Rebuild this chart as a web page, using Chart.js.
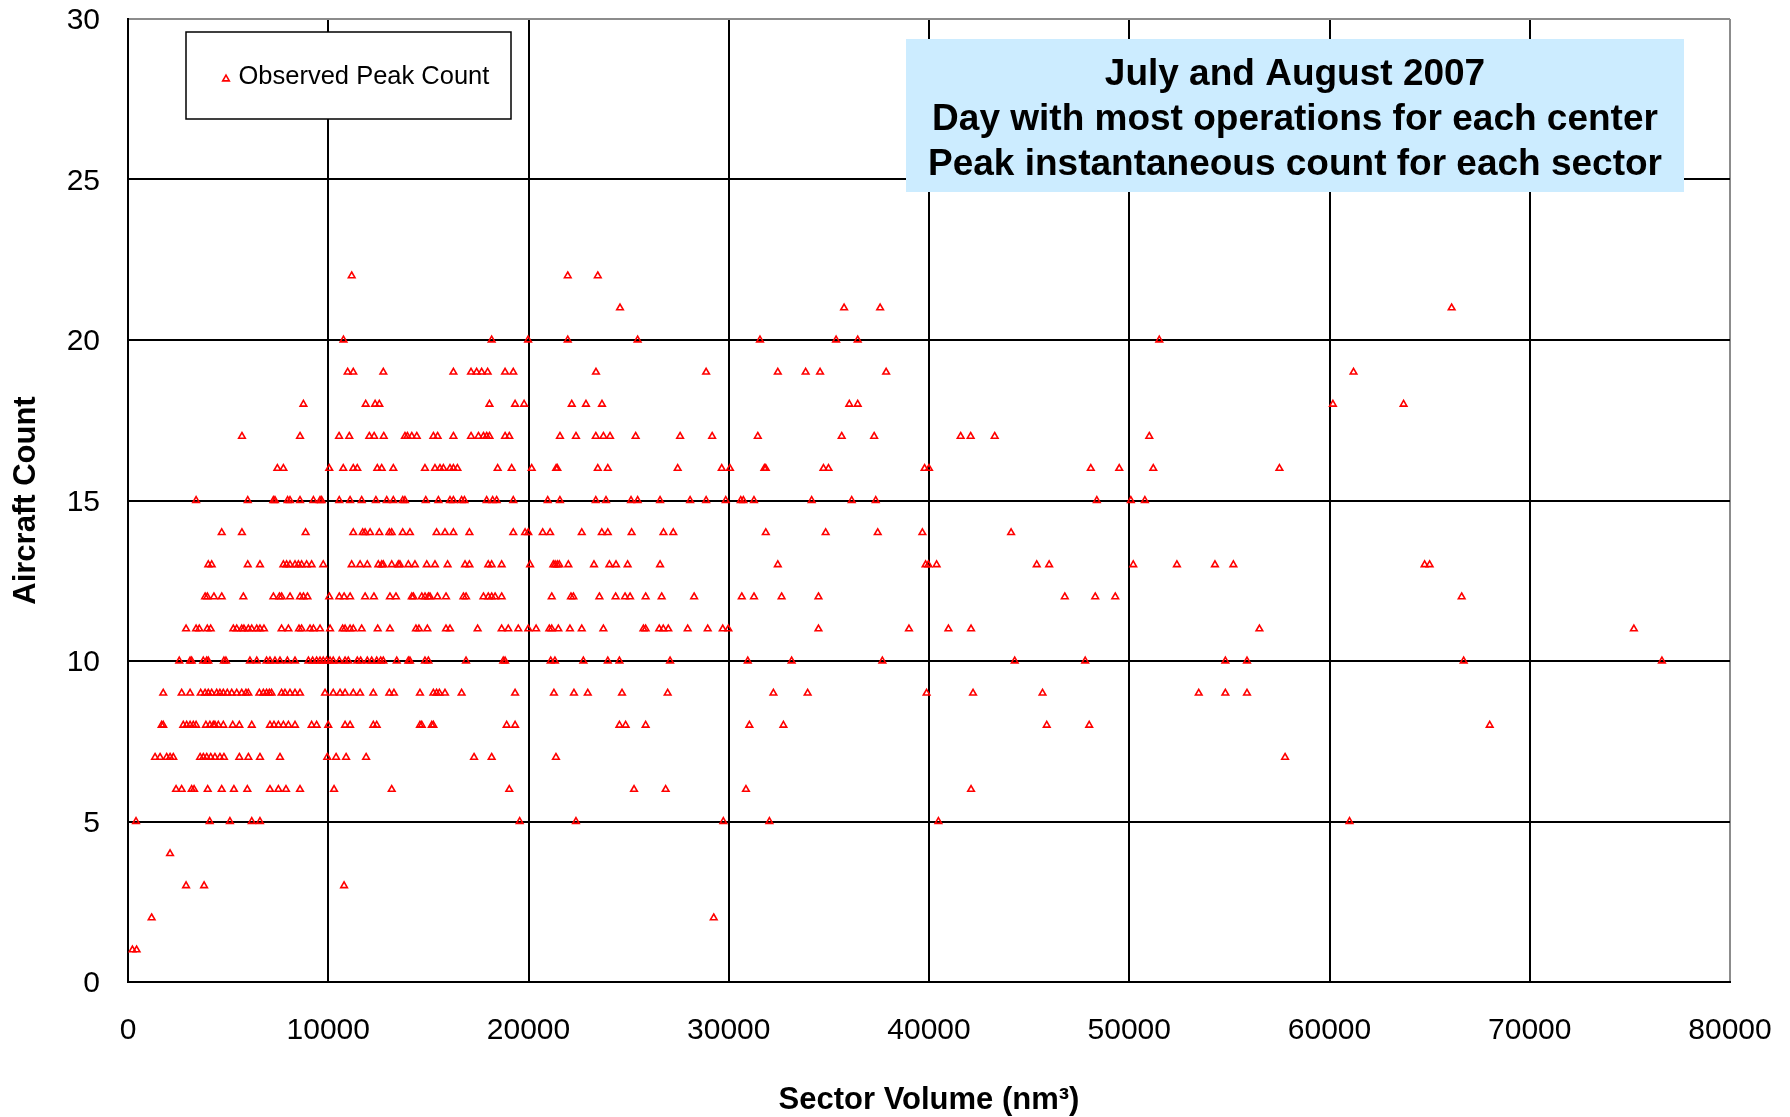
<!DOCTYPE html>
<html>
<head>
<meta charset="utf-8">
<script src="https://cdn.jsdelivr.net/npm/chart.js@4/dist/chart.umd.min.js"></script>
<style>
  html, body { margin: 0; padding: 0; background: #ffffff; }
  canvas { display: block; }
</style>
</head>
<body>
<canvas id="chart" width="1790" height="1117"></canvas>
<script>
// Sector volumes (nm³), grouped by the observed peak instantaneous aircraft count
const volumes22 = [11170, 21960, 23460];
const volumes21 = [24570, 35760, 37560, 66100];
const volumes20 = [10760, 18160, 19980, 21960, 25450, 31560, 35360, 36440, 51500];
const volumes19 = [10970, 11250, 12750, 16250, 17130, 17410, 17660, 17960, 18830, 19240, 23370, 28870,
  32450, 33840, 34560, 37860, 61200];
const volumes18 = [8760, 11870, 12340, 12550, 18050, 19330, 19780, 22160, 22870, 23670, 36020, 36440,
  60170, 63700];
const volumes17 = [5690, 8590, 10540, 11050, 12050, 12290, 12770, 13830, 13950, 14170, 14420, 15250,
  15460, 16250, 17130, 17500, 17750, 17910, 18050, 18830, 19040, 21570, 22370, 23360, 23740, 24070,
  25350, 27570, 29170, 31450, 35640, 37260, 41580, 42080, 43280, 51000];
const volumes16 = [7460, 7760, 10050, 10750, 11250, 11450, 12450, 12670, 13250, 14830, 15330, 15580,
  15750, 16080, 16250, 16450, 18460, 19160, 20160, 21380, 21440, 23460, 23960, 27450, 29650, 30060,
  31780, 31850, 34730, 34980, 39780, 40000, 48080, 49500, 51200, 57500];
const volumes15 = [3400, 5980, 7260, 7340, 7970, 8090, 8590, 9260, 9590, 9670, 10550, 11090, 11670,
  12380, 12920, 13250, 13720, 13830, 14870, 15500, 16080, 16250, 16660, 16800, 17910, 18210, 18410,
  19240, 20960, 21570, 23360, 23870, 25120, 25450, 26570, 28070, 28870, 29850, 30600, 30730, 31260,
  34140, 36140, 37340, 48380, 50080, 50780];
const volumes14 = [4680, 5690, 8870, 11250, 11720, 11840, 12090, 12550, 13050, 13170, 13720, 14080,
  15410, 15830, 16250, 17050, 19240, 19830, 19990, 20710, 21080, 22660, 23660, 23960, 25150, 26740,
  27230, 31850, 34840, 37440, 39670, 44100];
const volumes13 = [4010, 4180, 5980, 6590, 7760, 7920, 8090, 8340, 8510, 8670, 8920, 9170, 9750,
  11170, 11590, 11950, 12500, 12670, 12750, 13170, 13500, 13580, 14000, 14330, 14920, 15330, 15960,
  16830, 17050, 17990, 18160, 18660, 20080, 21240, 21330, 21440, 21540, 21990, 23270, 24040, 24370,
  24950, 26570, 32450, 39830, 39970, 40380, 45380, 46000, 50200, 52380, 54280, 55200, 64750, 65000];
const volumes12 = [3850, 3960, 4290, 4680, 5760, 7260, 7560, 7670, 8090, 8590, 8760, 8960, 10050,
  10550, 10790, 11090, 11840, 12280, 13080, 13380, 14170, 14250, 14670, 14830, 15000, 15080, 15450,
  15880, 16750, 16880, 17750, 17990, 18160, 18330, 18660, 21160, 22120, 22240, 23540, 24350, 24820,
  25070, 25850, 26650, 28270, 30650, 31260, 32640, 34480, 46780, 48300, 49300, 66600];
const volumes11 = [2900, 3400, 3560, 3960, 4130, 5260, 5430, 5680, 5790, 6010, 6180, 6430, 6590,
  6790, 7670, 8010, 8540, 8670, 9090, 9260, 9590, 10090, 10720, 10840, 11090, 11250, 11670, 12470,
  13080, 14380, 14530, 14950, 15880, 16080, 17460, 18660, 18990, 19490, 19990, 20380, 21040, 21160,
  21490, 22070, 22660, 23740, 25740, 25850, 26530, 26730, 26980, 27950, 28950, 29700, 29980, 34480,
  39000, 40970, 42100, 56500, 75200];
const volumes10 = [2560, 3100, 3180, 3760, 3930, 4010, 4790, 4890, 6090, 6430, 6920, 7090, 7340,
  7590, 7960, 8340, 9010, 9220, 9420, 9590, 9750, 9920, 10090, 10250, 10550, 10840, 11000, 11450,
  11620, 11950, 12170, 12420, 12620, 12750, 13420, 14000, 14080, 14830, 15000, 16880, 18740, 18830,
  21110, 21320, 22740, 23960, 24540, 27070, 30950, 33140, 37670, 44280, 47800, 54800, 55880, 66700,
  76600];
const volumes9 = [1760, 2680, 3100, 3630, 3850, 4010, 4180, 4430, 4590, 4760, 4960, 5180, 5430,
  5680, 5890, 6010, 6560, 6760, 6920, 7060, 7170, 7670, 7840, 8090, 8340, 8590, 9840, 10250, 10590,
  10840, 11250, 11590, 12250, 13050, 13280, 14580, 15250, 15410, 15550, 15830, 16660, 19330, 21270,
  22270, 22960, 24670, 26950, 32230, 33940, 39880, 42200, 45670, 53470, 54800, 55880];
const volumes8 = [1680, 1760, 2760, 2930, 3100, 3260, 3400, 3890, 4090, 4260, 4340, 4510, 4760,
  5230, 5560, 6180, 7090, 7290, 7510, 7760, 8010, 8340, 9170, 9420, 10000, 10840, 11090, 12250,
  12420, 14580, 14670, 15170, 15250, 18910, 19330, 24540, 24850, 25850, 31030, 32730, 45880, 48000,
  68000];
const volumes7 = [1350, 1600, 1930, 2100, 2260, 3600, 3760, 3930, 4130, 4340, 4590, 4790, 5560,
  6010, 6590, 7590, 9950, 10390, 10890, 11890, 17280, 18160, 21370, 57780];
const volumes6 = [2400, 2680, 3180, 3300, 3980, 4680, 5290, 5960, 7090, 7510, 7890, 8590, 10290,
  13170, 19040, 25270, 26850, 30860, 42100];
const volumes5 = [400, 4080, 5090, 6180, 6590, 19560, 22370, 29730, 32030, 40470, 61000];
const volumes4 = [2100];
const volumes3 = [2900, 3800, 10790];
const volumes2 = [1180, 29250];
const volumes1 = [220, 430];

const countLevels = [22, 21, 20, 19, 18, 17, 16, 15, 14, 13, 12, 11, 10, 9, 8, 7, 6, 5, 4, 3, 2, 1];
const volumesByCount = [volumes22, volumes21, volumes20, volumes19, volumes18, volumes17, volumes16,
  volumes15, volumes14, volumes13, volumes12, volumes11, volumes10, volumes9, volumes8, volumes7,
  volumes6, volumes5, volumes4, volumes3, volumes2, volumes1];

const xTickValues = [0, 10000, 20000, 30000, 40000, 50000, 60000, 70000, 80000];
const yTickValues = [0, 5, 10, 15, 20, 25, 30];

const seriesLabel = 'Observed Peak Count';
const noteLines = [
  'July and August 2007',
  'Day with most operations for each center',
  'Peak instantaneous count for each sector'
];
const xAxisTitle = 'Sector Volume (nm\u00B3)';
const yAxisTitle = 'Aircraft Count';

const FONT = '"Liberation Sans", Arial, Helvetica, sans-serif';
const RED = '#FF0000';

const points = [];
countLevels.forEach((count, i) => {
  volumesByCount[i].forEach(v => points.push({ x: v, y: count }));
});

function triangle(ctx, cx, cy, r) {
  ctx.beginPath();
  ctx.moveTo(cx, cy - r);
  ctx.lineTo(cx + r * Math.sin(Math.PI / 3), cy + r / 2);
  ctx.lineTo(cx - r * Math.sin(Math.PI / 3), cy + r / 2);
  ctx.closePath();
}

// Legend box and the light-blue note panel drawn over the plot area
const overlayPlugin = {
  id: 'overlay',
  afterDatasetsDraw(chart) {
    const { ctx, chartArea } = chart;
    ctx.save();

    // legend
    const lx = chartArea.left + 58, ly = chartArea.top + 13, lw = 325, lh = 87;
    ctx.fillStyle = '#ffffff';
    ctx.fillRect(lx, ly, lw, lh);
    ctx.strokeStyle = '#000000';
    ctx.lineWidth = 1.5;
    ctx.strokeRect(lx, ly, lw, lh);
    ctx.strokeStyle = RED;
    ctx.lineWidth = 1.6;
    triangle(ctx, lx + 40, ly + 47, 3.8);
    ctx.stroke();
    ctx.fillStyle = '#000000';
    ctx.font = '25.5px ' + FONT;
    ctx.textAlign = 'left';
    ctx.textBaseline = 'alphabetic';
    ctx.fillText(seriesLabel, lx + 52.5, ly + 51.5);

    // note panel
    const nx = chartArea.left + 778, ny = chartArea.top + 20, nw = 778, nh = 153;
    ctx.fillStyle = '#CCECFF';
    ctx.fillRect(nx, ny, nw, nh);
    ctx.fillStyle = '#000000';
    ctx.font = 'bold 37px ' + FONT;
    ctx.textAlign = 'center';
    noteLines.forEach((line, i) => {
      ctx.fillText(line, nx + nw / 2, ny + 46 + i * 45);
    });
    ctx.restore();
  }
};

new Chart(document.getElementById('chart'), {
  type: 'scatter',
  data: {
    datasets: [{
      label: seriesLabel,
      data: points,
      pointStyle: 'triangle',
      pointRadius: 3.8,
      pointHoverRadius: 3.8,
      pointBorderWidth: 1.6,
      pointBorderColor: RED,
      pointBackgroundColor: 'rgba(0,0,0,0)'
    }]
  },
  options: {
    responsive: false,
    animation: false,
    events: [],
    layout: { padding: { left: 0, top: 19, right: 60, bottom: 0 } },
    plugins: {
      legend: { display: false },
      tooltip: { enabled: false },
      title: { display: false }
    },
    scales: {
      x: {
        type: 'linear',
        min: 0,
        max: 80000,
        afterFit: s => {
          s.height = 135;
          s.paddingLeft = 0; s.paddingRight = 0; s.paddingTop = 0; s.paddingBottom = 0;
        },
        afterBuildTicks: s => { s.ticks = xTickValues.map(v => ({ value: v })); },
        ticks: {
          color: '#000000',
          padding: 31,
          maxRotation: 0,
          font: { family: FONT, size: 30 },
          callback: v => String(v)
        },
        grid: {
          drawTicks: false,
          lineWidth: 2,
          color: c => (c.tick && c.tick.value === 80000 ? '#8c8c8c' : '#000000')
        },
        border: { display: true, color: '#000000', width: 2 },
        title: {
          display: true,
          text: xAxisTitle,
          color: '#000000',
          font: { family: FONT, size: 31, weight: 'bold' },
          padding: { top: 0, bottom: -2 }
        }
      },
      y: {
        type: 'linear',
        min: 0,
        max: 30,
        afterFit: s => {
          s.width = 128;
          s.paddingLeft = 0; s.paddingRight = 0; s.paddingTop = 0; s.paddingBottom = 0;
        },
        afterBuildTicks: s => { s.ticks = yTickValues.map(v => ({ value: v })); },
        ticks: {
          color: '#000000',
          padding: 28,
          labelOffset: 2,
          font: { family: FONT, size: 30 },
          callback: v => String(v)
        },
        grid: {
          drawTicks: false,
          lineWidth: 2,
          color: c => (c.tick && c.tick.value === 30 ? '#8c8c8c' : '#000000')
        },
        border: { display: true, color: '#000000', width: 2 },
        title: {
          display: true,
          text: yAxisTitle,
          color: '#000000',
          font: { family: FONT, size: 31, weight: 'bold' },
          padding: { top: 8, bottom: 0 }
        }
      }
    }
  },
  plugins: [overlayPlugin]
});
</script>
</body>
</html>
